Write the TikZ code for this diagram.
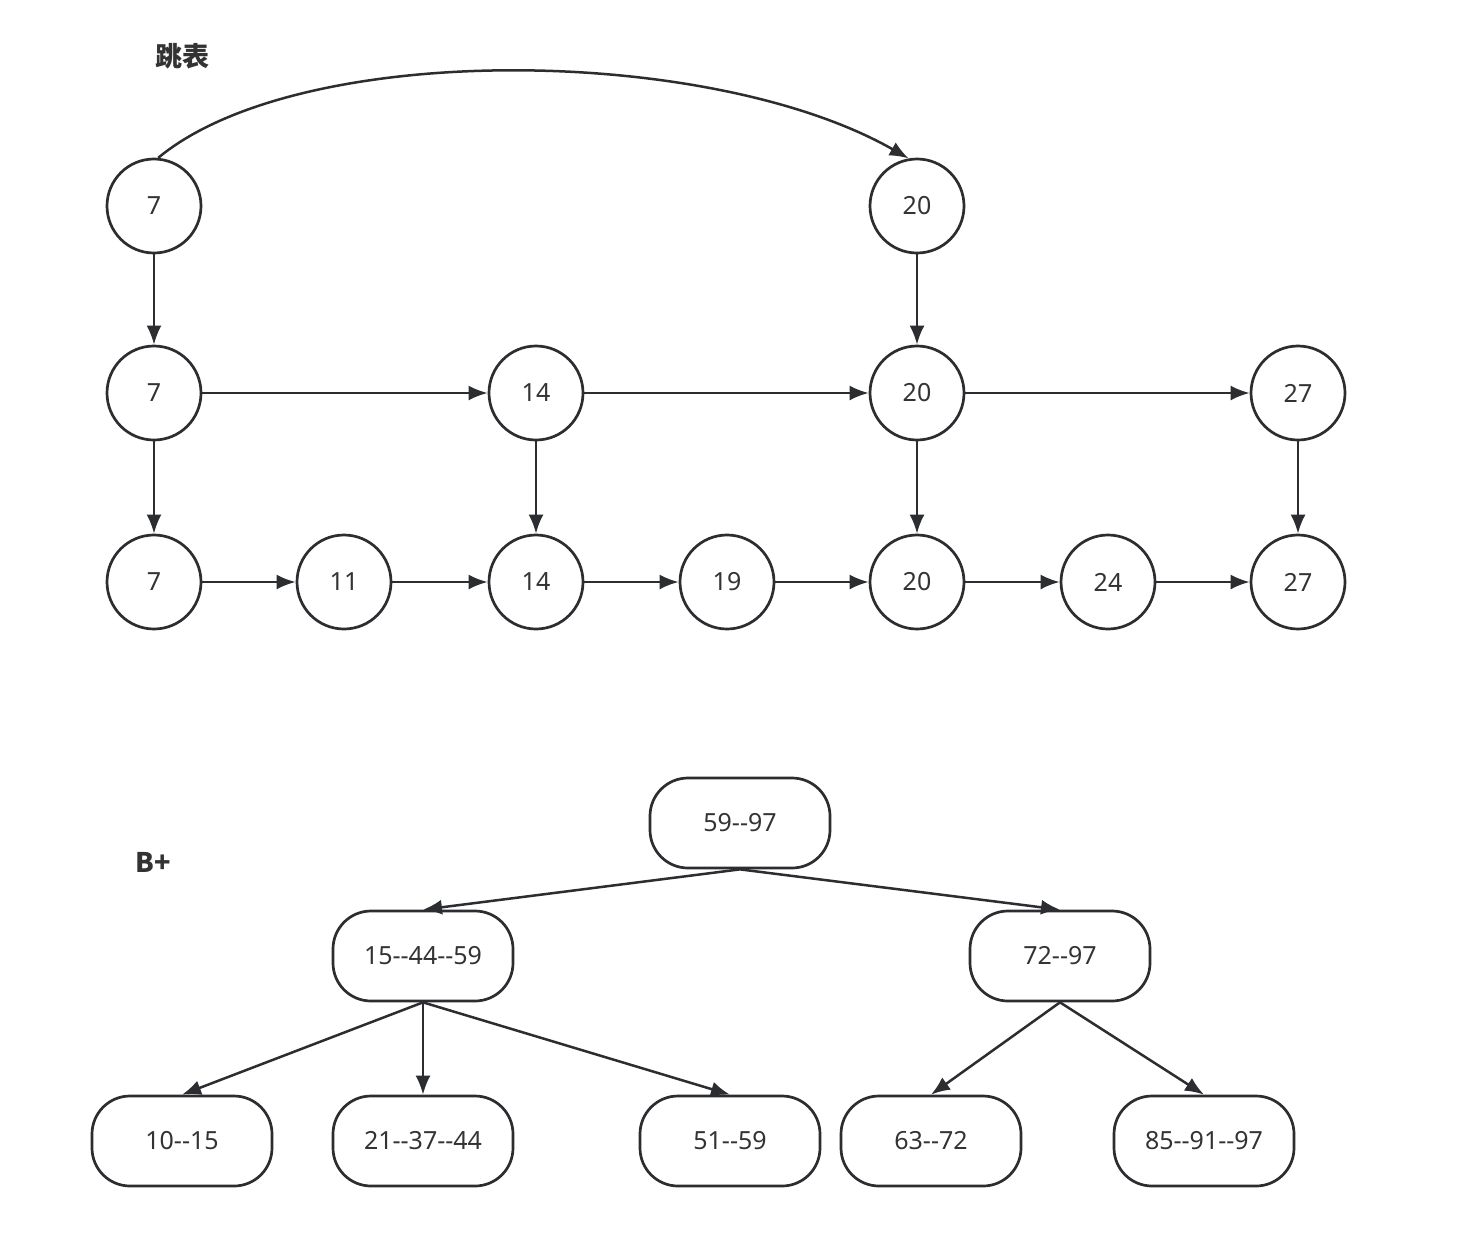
\documentclass[tikz,border=0pt]{standalone}
\usepackage{fontspec}
\setmainfont[Ligatures=TeXOff]{Noto Sans}
\newfontfamily\cjk{Noto Sans CJK SC}
\usetikzlibrary{arrows.meta}
\definecolor{ink}{HTML}{2B2D30}
\definecolor{txt}{HTML}{333333}
\begin{document}
\begin{tikzpicture}[x=1pt,y=-1pt,
  circ/.style={circle,draw=ink,line width=2.7pt,minimum size=94pt,inner sep=0pt,font=\fontsize{25}{29}\selectfont,text=txt},
  bbox/.style={rectangle,rounded corners=38pt,draw=ink,line width=2.7pt,minimum width=180pt,minimum height=90pt,inner sep=0pt,font=\fontsize{25}{29}\selectfont,text=txt},
  arr/.style={draw=ink,line width=2.5pt,-{Latex[length=19pt,width=15pt]}},
  lbl/.style={font=\cjk\bfseries\fontsize{27}{30}\selectfont,text=txt,inner sep=0pt}]
\fill[white] (0,0) rectangle (1482,1236);
\useasboundingbox (0,0) rectangle (1482,1236);
% titles
\node[lbl] (t1) at (182,56) {跳表};
\node[lbl] (t2) at (153,862) {B+};
% skip list
\node[circ] (a7) at (154,206) {7};
\node[circ] (a20) at (917,206) {20};
\node[circ] (b7) at (154,393) {7};
\node[circ] (b14) at (536,393) {14};
\node[circ] (b20) at (917,393) {20};
\node[circ] (b27) at (1298,393) {27};
\node[circ] (c7) at (154,582) {7};
\node[circ] (c11) at (344,582) {11};
\node[circ] (c14) at (536,582) {14};
\node[circ] (c19) at (727,582) {19};
\node[circ] (c20) at (917,582) {20};
\node[circ] (c24) at (1108,582) {24};
\node[circ] (c27) at (1298,582) {27};
\draw[arr] (a7.85) .. controls (300,40) and (710,45) .. (a20.100);
\draw[arr] (a7) -- (b7);
\draw[arr] (a20) -- (b20);
\draw[arr] (b7) -- (b14);
\draw[arr] (b14) -- (b20);
\draw[arr] (b20) -- (b27);
\draw[arr] (b7) -- (c7);
\draw[arr] (b14) -- (c14);
\draw[arr] (b20) -- (c20);
\draw[arr] (b27) -- (c27);
\draw[arr] (c7) -- (c11);
\draw[arr] (c11) -- (c14);
\draw[arr] (c14) -- (c19);
\draw[arr] (c19) -- (c20);
\draw[arr] (c20) -- (c24);
\draw[arr] (c24) -- (c27);
% B+ tree
\node[bbox] (r) at (740,823) {59--97};
\node[bbox] (l1) at (423,956) {15--44--59};
\node[bbox] (l2) at (1060,956) {72--97};
\node[bbox] (x1) at (182,1141) {10--15};
\node[bbox] (x2) at (423,1141) {21--37--44};
\node[bbox] (x3) at (730,1141) {51--59};
\node[bbox] (x4) at (931,1141) {63--72};
\node[bbox] (x5) at (1204,1141) {85--91--97};
\draw[arr] (r.south) -- (l1.north);
\draw[arr] (r.south) -- (l2.north);
\draw[arr] (l1.south) -- (x1.north);
\draw[arr] (l1.south) -- (x2.north);
\draw[arr] (l1.south) -- (x3.north);
\draw[arr] (l2.south) -- (x4.north);
\draw[arr] (l2.south) -- (x5.north);
\end{tikzpicture}
\end{document}
